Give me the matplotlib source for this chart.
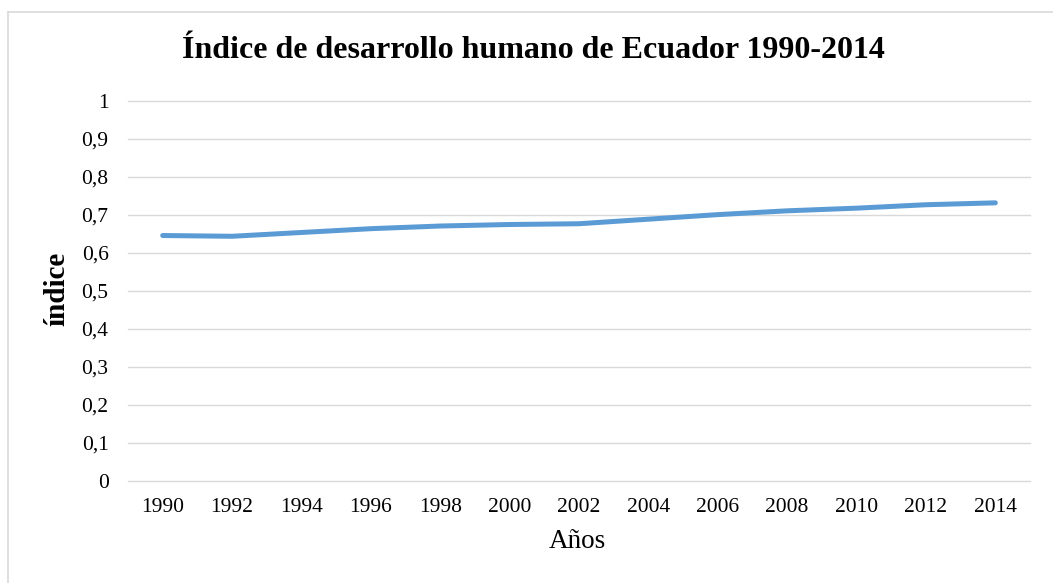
import matplotlib.pyplot as plt
from matplotlib.lines import Line2D

years = ["1990", "1992", "1994", "1996", "1998", "2000", "2002",
         "2004", "2006", "2008", "2010", "2012", "2014"]
idh = [0.646, 0.644, 0.654, 0.664, 0.671, 0.675, 0.677,
       0.689, 0.701, 0.711, 0.718, 0.727, 0.732]
yticks = [0, 0.1, 0.2, 0.3, 0.4, 0.5, 0.6, 0.7, 0.8, 0.9, 1]

plt.rcParams['font.family'] = ['Liberation Serif', 'DejaVu Serif']

fig = plt.figure(figsize=(10.53, 5.83), dpi=100)
W, H = 1053, 583
ax = fig.add_axes([128 / W, 1 - 481 / H, (1030 - 128) / W, (481 - 101) / H])

x = list(range(len(years)))
ax.plot(x, idh, color="#5b9bd5", linewidth=3.6, solid_capstyle="round",
        solid_joinstyle="round")

ax.set_xlim(-0.5, len(years) - 0.5)
ax.set_ylim(0, 1)
ax.set_xticks(x)
ax.set_xticklabels(years)
ax.set_yticks(yticks)
ax.set_yticklabels([str(v).replace(".", ",") if v not in (0, 1) else str(v) for v in yticks])
ax.tick_params(length=0, labelsize=15.5, colors="#000000")
ax.tick_params(axis="x", pad=12)
ax.tick_params(axis="y", pad=14)
ax.grid(axis="y", color="#d9d9d9", linewidth=1)
for gl in ax.get_ygridlines():
    gl.set_clip_on(False)
ax.set_axisbelow(True)
for s in ax.spines.values():
    s.set_visible(False)

fig.text(577 / W, 1 - 542 / H, "Años", ha="center", va="center", fontsize=19.5)
fig.text(57 / W, 1 - 289 / H, "índice", ha="center", va="center", rotation=90,
         fontsize=21, fontweight="bold")
fig.text(533 / W, 1 - 51 / H, "Índice de desarrollo humano de Ecuador 1990-2014",
         ha="center", va="center", fontsize=23, fontweight="bold")

fig.lines.append(Line2D([8 / W, 1], [1 - 12 / H, 1 - 12 / H], transform=fig.transFigure,
                        color="#d9d9d9", linewidth=1.2))
fig.lines.append(Line2D([8 / W, 8 / W], [0, 1 - 12 / H], transform=fig.transFigure,
                        color="#d9d9d9", linewidth=1.2))

fig.savefig("out.png", dpi=100)
